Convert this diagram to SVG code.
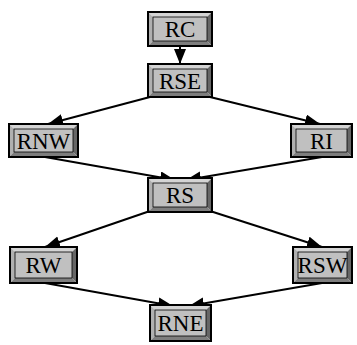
<svg xmlns="http://www.w3.org/2000/svg" width="357" height="345" viewBox="0 0 357 345">
<style>
.face{fill:#c0c0c0;stroke:#000;stroke-width:0.8}
.tp{fill:#d4d4d4}
.lf{fill:#b0b0b0}
.rt{fill:#666}
.bt{fill:#7e7e7e}
.frame{fill:none;stroke:#000;stroke-width:2}
.lbl{font-family:"Liberation Serif","Times New Roman",serif;font-size:23px;fill:#000;text-anchor:middle}
.edge{stroke:#000;stroke-width:2;fill:none;marker-end:url(#ah)}
</style>
<defs>
<marker id="ah" markerUnits="userSpaceOnUse" markerWidth="16" markerHeight="14" refX="15" refY="6" orient="auto">
<path d="M0,0 L15,6 L0,12 z" fill="#000"/>
</marker>
</defs>
<rect width="357" height="345" fill="#fff"/>
<g id="edges">
<line class="edge" x1="180" y1="46" x2="180" y2="64"/>
<line class="edge" x1="150" y1="97" x2="48" y2="124"/>
<line class="edge" x1="210" y1="97" x2="320" y2="124"/>
<line class="edge" x1="45" y1="157" x2="175" y2="180"/>
<line class="edge" x1="322" y1="157" x2="186" y2="180"/>
<line class="edge" x1="150" y1="211" x2="45" y2="247"/>
<line class="edge" x1="210" y1="211" x2="322" y2="247"/>
<line class="edge" x1="45" y1="283" x2="173" y2="306"/>
<line class="edge" x1="322" y1="283" x2="189" y2="306"/>
</g>
<g id="RC">
<polygon class="tp" points="148,12 212,12 207,17 153,17"/>
<polygon class="lf" points="148,12 153,17 153,41 148,46"/>
<polygon class="rt" points="212,12 212,46 207,41 207,17"/>
<polygon class="bt" points="148,46 212,46 207,41 153,41"/>
<rect class="face" x="153" y="17" width="54" height="24"/>
<rect class="frame" x="148" y="12" width="64" height="34"/>
<text class="lbl" x="180" y="37">RC</text>
</g>
<g id="RSE">
<polygon class="tp" points="148,64 212,64 207,69 153,69"/>
<polygon class="lf" points="148,64 153,69 153,92 148,97"/>
<polygon class="rt" points="212,64 212,97 207,92 207,69"/>
<polygon class="bt" points="148,97 212,97 207,92 153,92"/>
<rect class="face" x="153" y="69" width="54" height="23"/>
<rect class="frame" x="148" y="64" width="64" height="33"/>
<text class="lbl" x="180" y="89">RSE</text>
</g>
<g id="RNW">
<polygon class="tp" points="9,124 78,124 73,129 14,129"/>
<polygon class="lf" points="9,124 14,129 14,152 9,157"/>
<polygon class="rt" points="78,124 78,157 73,152 73,129"/>
<polygon class="bt" points="9,157 78,157 73,152 14,152"/>
<rect class="face" x="14" y="129" width="59" height="23"/>
<rect class="frame" x="9" y="124" width="69" height="33"/>
<text class="lbl" x="43.5" y="149">RNW</text>
</g>
<g id="RI">
<polygon class="tp" points="291,124 352,124 347,129 296,129"/>
<polygon class="lf" points="291,124 296,129 296,152 291,157"/>
<polygon class="rt" points="352,124 352,157 347,152 347,129"/>
<polygon class="bt" points="291,157 352,157 347,152 296,152"/>
<rect class="face" x="296" y="129" width="51" height="23"/>
<rect class="frame" x="291" y="124" width="61" height="33"/>
<text class="lbl" x="321.5" y="149">RI</text>
</g>
<g id="RS">
<polygon class="tp" points="148,178 212,178 207,183 153,183"/>
<polygon class="lf" points="148,178 153,183 153,207 148,212"/>
<polygon class="rt" points="212,178 212,212 207,207 207,183"/>
<polygon class="bt" points="148,212 212,212 207,207 153,207"/>
<rect class="face" x="153" y="183" width="54" height="24"/>
<rect class="frame" x="148" y="178" width="64" height="34"/>
<text class="lbl" x="180" y="203">RS</text>
</g>
<g id="RW">
<polygon class="tp" points="10,247 77,247 72,252 15,252"/>
<polygon class="lf" points="10,247 15,252 15,278 10,283"/>
<polygon class="rt" points="77,247 77,283 72,278 72,252"/>
<polygon class="bt" points="10,283 77,283 72,278 15,278"/>
<rect class="face" x="15" y="252" width="57" height="26"/>
<rect class="frame" x="10" y="247" width="67" height="36"/>
<text class="lbl" x="43.5" y="273">RW</text>
</g>
<g id="RSW">
<polygon class="tp" points="293,247 352,247 347,252 298,252"/>
<polygon class="lf" points="293,247 298,252 298,278 293,283"/>
<polygon class="rt" points="352,247 352,283 347,278 347,252"/>
<polygon class="bt" points="293,283 352,283 347,278 298,278"/>
<rect class="face" x="298" y="252" width="49" height="26"/>
<rect class="frame" x="293" y="247" width="59" height="36"/>
<text class="lbl" x="322.5" y="273">RSW</text>
</g>
<g id="RNE">
<polygon class="tp" points="150,305 211,305 206,310 155,310"/>
<polygon class="lf" points="150,305 155,310 155,336 150,341"/>
<polygon class="rt" points="211,305 211,341 206,336 206,310"/>
<polygon class="bt" points="150,341 211,341 206,336 155,336"/>
<rect class="face" x="155" y="310" width="51" height="26"/>
<rect class="frame" x="150" y="305" width="61" height="36"/>
<text class="lbl" x="180.5" y="331">RNE</text>
</g>
</svg>
